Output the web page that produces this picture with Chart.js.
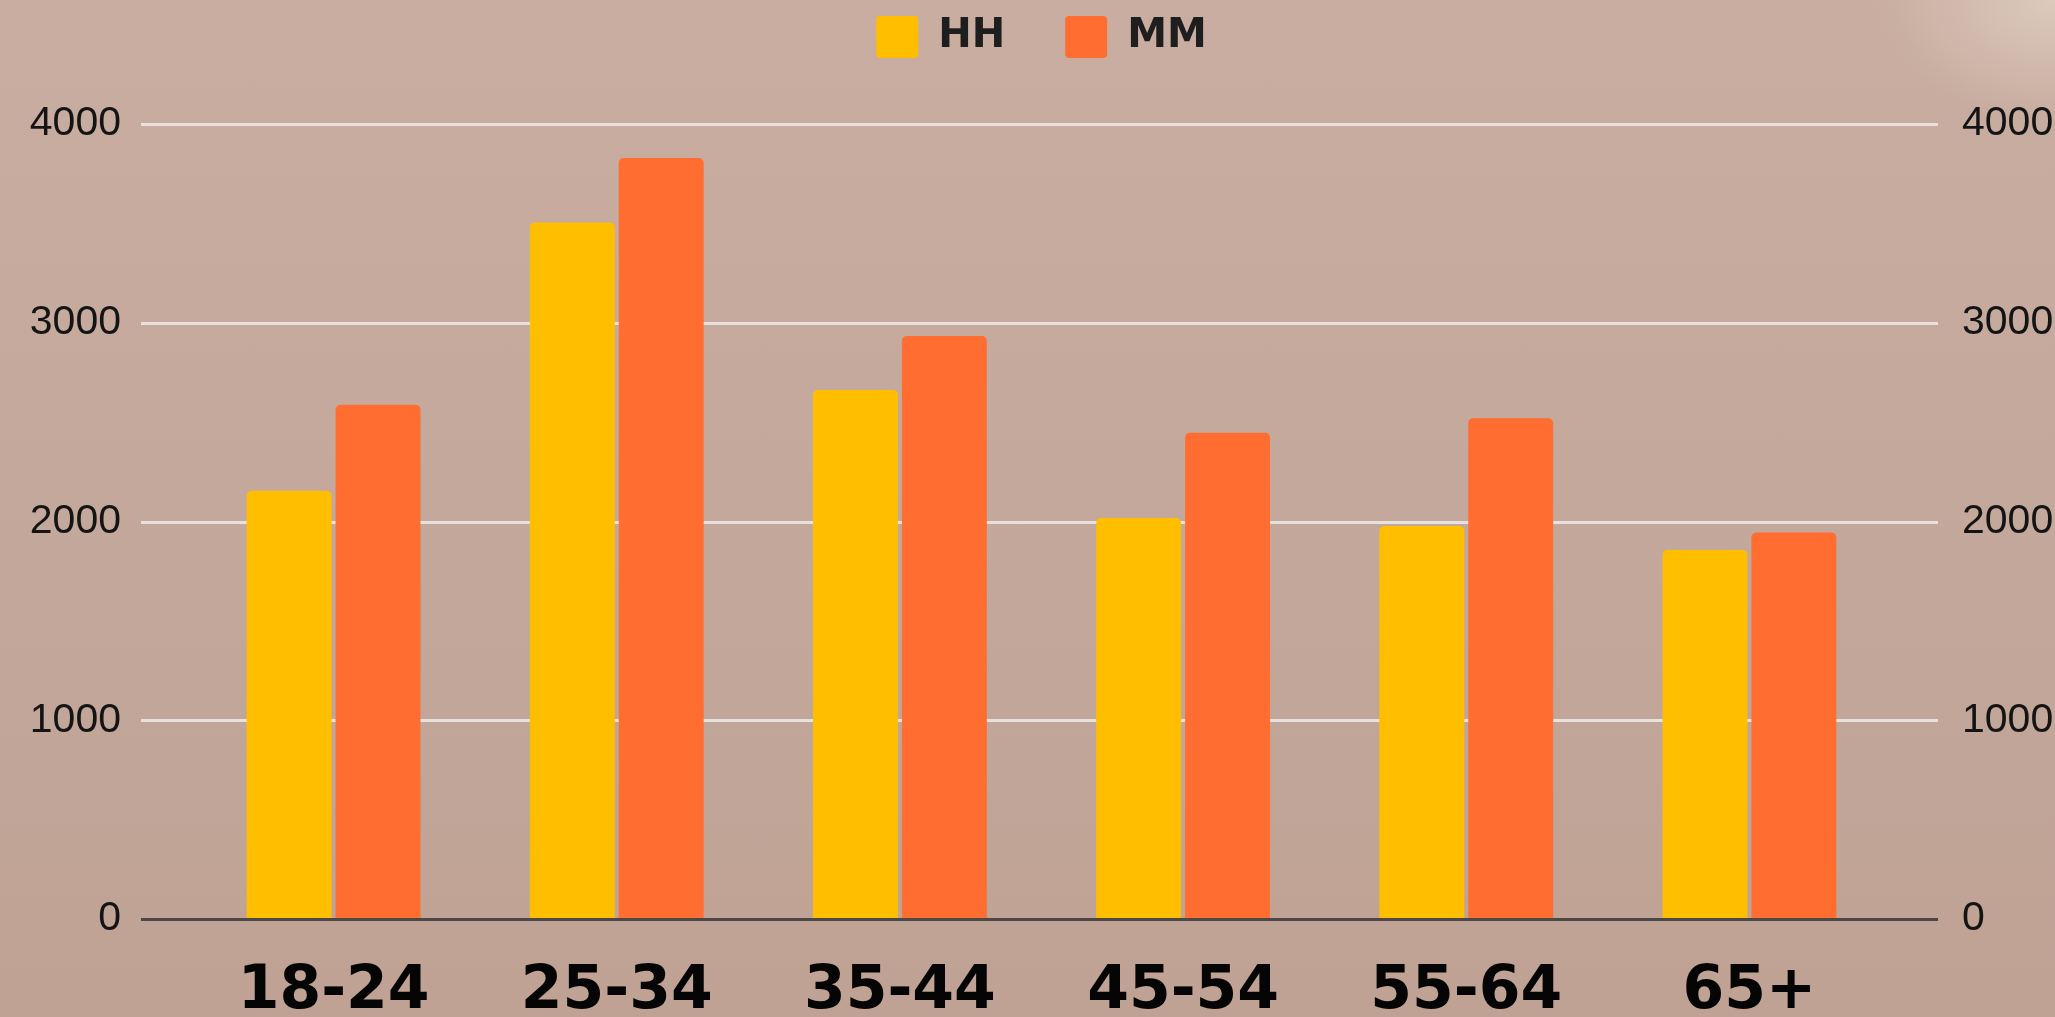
<!DOCTYPE html>
<html>
<head>
<meta charset="utf-8">
<title>HH vs MM by age group</title>
<script src="https://cdn.jsdelivr.net/npm/chart.js"></script>
<style>
  html, body {
    margin: 0;
    padding: 0;
    overflow: hidden;
  }
  body {
    width: 2055px;
    height: 1017px;
    background:
      radial-gradient(ellipse 180px 120px at 100% 0%, rgba(222, 205, 192, 0.9), rgba(222, 205, 192, 0) 100%),
      linear-gradient(180deg, #c8ada0 0%, #c3a89b 50%, #bfa294 100%);
  }
  #chart {
    display: block;
  }
</style>
</head>
<body>
<canvas id="chart" width="2055" height="1017"></canvas>
<script>
const ageGroups = ['18-24', '25-34', '35-44', '45-54', '55-64', '65+'];
const hhValues = [2155, 3505, 2662, 2018, 1977, 1856];
const mmValues = [2587, 3829, 2933, 2447, 2520, 1945];
const axisMin = 0;
const axisMax = 4000;
const axisStep = 1000;

// gridlines in the source run a bit past the outer bars, so they are drawn from the y scale here
const wideGrid = {
  id: 'wideGrid',
  beforeDatasetsDraw(chart) {
    const { ctx, chartArea, scales } = chart;
    const left = chartArea.left - 51;
    const right = chartArea.right + 47;
    ctx.save();
    ctx.lineWidth = 3;
    ctx.strokeStyle = 'rgba(234, 229, 226, 0.95)';
    scales.y.ticks.forEach(tick => {
      if (tick.value === 0) return;
      const py = Math.round(scales.y.getPixelForValue(tick.value)) + 0.5;
      ctx.beginPath();
      ctx.moveTo(left, py);
      ctx.lineTo(right, py);
      ctx.stroke();
    });
    ctx.restore();
  },
  afterDatasetsDraw(chart) {
    const { ctx, chartArea, scales } = chart;
    const py = Math.round(scales.y.getPixelForValue(0)) + 0.5;
    ctx.save();
    ctx.lineWidth = 3;
    ctx.strokeStyle = '#4d4848';
    ctx.beginPath();
    ctx.moveTo(chartArea.left - 51, py);
    ctx.lineTo(chartArea.right + 47, py);
    ctx.stroke();
    ctx.restore();
  }
};

// more room between legend and plot
const legendGap = {
  id: 'legendGap',
  beforeInit(chart) {
    const fitLegend = chart.legend.fit;
    chart.legend.fit = function () {
      fitLegend.bind(chart.legend)();
      this.height = 168;
    };
  }
};

const valueTicks = {
  stepSize: axisStep,
  padding: 71,
  color: '#141414',
  font: { family: '"Liberation Sans", Arial, sans-serif', size: 41 },
  callback: value => String(value)
};

window.addEventListener('DOMContentLoaded', () => {
  new Chart(document.getElementById('chart'), {
    type: 'bar',
    data: {
      labels: ageGroups,
      datasets: [
        {
          label: 'HH',
          data: hhValues,
          backgroundColor: '#ffbf00',
          borderWidth: 0,
          borderRadius: { topLeft: 5, topRight: 5 },
          borderSkipped: 'bottom'
        },
        {
          label: 'MM',
          data: mmValues,
          backgroundColor: '#ff6d31',
          borderWidth: 0,
          borderRadius: { topLeft: 5, topRight: 5 },
          borderSkipped: 'bottom'
        }
      ]
    },
    options: {
      responsive: false,
      devicePixelRatio: 1,
      animation: false,
      categoryPercentage: 0.628,
      barPercentage: 0.955,
      layout: { padding: { top: -44, left: 30, right: 2, bottom: 0 } },
      plugins: {
        legend: {
          position: 'top',
          labels: {
            boxWidth: 42,
            boxHeight: 42,
            padding: 60,
            useBorderRadius: true,
            borderRadius: 4,
            color: '#1e1e1e',
            font: { family: '"DejaVu Sans", sans-serif', size: 40, weight: 'bold' }
          }
        },
        tooltip: { enabled: false }
      },
      scales: {
        x: {
          grid: { display: false, drawTicks: false },
          border: { display: false },
          afterFit: scale => { scale.height = 98; },
          ticks: {
            padding: 43,
            color: '#050505',
            font: { family: '"DejaVu Sans", sans-serif', size: 60, weight: 'bold', lineHeight: 1 }
          }
        },
        y: {
          position: 'left',
          min: axisMin,
          max: axisMax,
          grid: { display: false, drawTicks: false },
          border: { display: false },
          afterFit: scale => { scale.width = 162; },
          ticks: valueTicks
        },
        y2: {
          position: 'right',
          min: axisMin,
          max: axisMax,
          grid: { display: false, drawTicks: false },
          border: { display: false },
          afterFit: scale => { scale.width = 162; },
          ticks: { ...valueTicks }
        }
      }
    },
    plugins: [legendGap, wideGrid]
  });
});
</script>
</body>
</html>
